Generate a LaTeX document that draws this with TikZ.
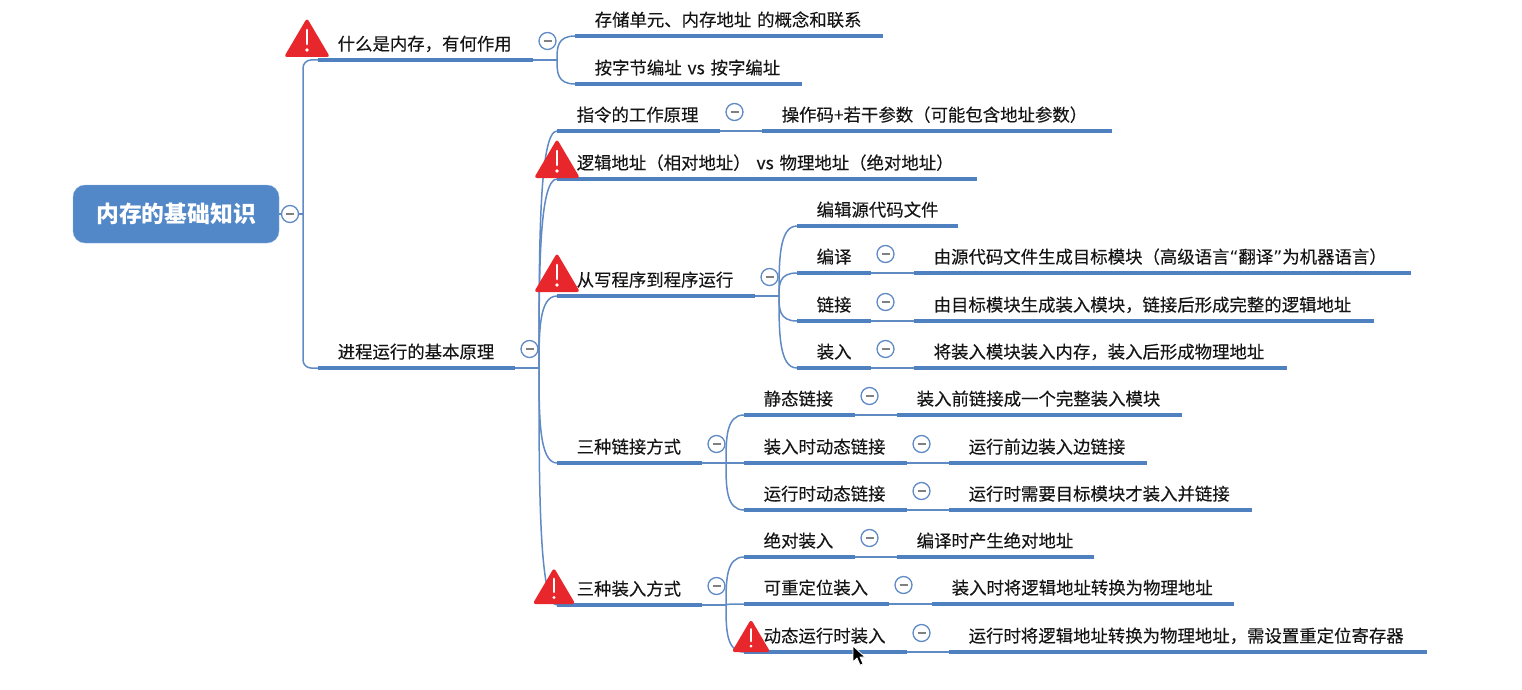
\documentclass[tikz,border=0pt]{standalone}
\usepackage{fontspec}
\setmainfont{Noto Sans CJK SC}
\newfontfamily\topicfont[FakeBold=0.2, WordSpace=1.5]{Noto Sans CJK SC}
\newfontfamily\quotefont{DejaVu Sans}
\usetikzlibrary{backgrounds,calc}
\definecolor{barblue}{HTML}{4F81C0}
\definecolor{linkblue}{HTML}{5F8AC4}
\definecolor{rootblue}{HTML}{5388C8}
\definecolor{warnred}{HTML}{E8272C}
\definecolor{inkdark}{HTML}{151515}
\tikzset{
    topic/.style={inner sep=0pt, anchor=base west, font=\topicfont\fontsize{17.4}{19}\selectfont, text=inkdark},
    bar/.style={barblue, line width=4.4pt},
    link/.style={linkblue, line width=1.5pt},
    rootbox/.style={rectangle, rounded corners=12pt, fill=rootblue, draw=rootblue!70!white, text=white, minimum width=206pt, minimum height=58pt, font=\fontsize{22.8}{25}\selectfont\bfseries},
    fold/.style={circle, draw=linkblue, fill=white, line width=1.3pt, inner sep=0pt, minimum size=17pt,
        path picture={\draw[gray, line width=1.2pt] ([xshift=-4pt]path picture bounding box.center) -- ([xshift=4pt]path picture bounding box.center);}},
    warn/.pic={
        \fill[warnred, rounded corners=3pt] (-23,0) -- (0,-39) -- (23,0) -- cycle;
        \draw[white, line width=2.6pt, line cap=round] (0,-27) -- (0,-13);
        \fill[white] (0,-7) circle (1.8);
    }
}
\begin{document}
\begin{tikzpicture}[x=1pt, y=-1pt]
    \useasboundingbox (0,0) rectangle (1522,690);
    \node[rootbox] (root) at (176,214) {内存的基础知识};
    \node[fold] (root-fold) at (290,214) {};
    \coordinate (root-j) at (303,214);
    % warning marks go under the texts
    \foreach \xpos/\ypos/\size in {307/57/1, 557/178/1, 557/292/1, 554/604/0.93, 751/652/0.84}{
        \pic[scale=\size] at (\xpos,\ypos) {warn};
    }
    % name / bar start / bar end / bar height / text
    \foreach \name/\xa/\xb/\ybar/\txt in {
        mem/318/533/60/{什么是内存，有何作用},
        cell/575/883/36/{存储单元、内存地址 的概念和联系},
        addr/575/802/84/{按字节编址 vs 按字编址},
        proc/318/515/368/{进程运行的基本原理},
        instr/557/720/131/{指令的工作原理},
        opcode/762/1112/131/{操作码+若干参数（可能包含地址参数）},
        logic/557/977/179/{逻辑地址（相对地址） vs 物理地址（绝对地址）},
        steps/557/755/296/{从写程序到程序运行},
        edit/797/958/226/{编辑源代码文件},
        comp/797/871/273/{编译},
        compd/914/1411/273/{由源代码文件生成目标模块（高级语言{\quotefont“}翻译{\quotefont”}为机器语言）},
        linkit/797/871/321/{链接},
        linkd/914/1374/321/{由目标模块生成装入模块，链接后形成完整的逻辑地址},
        load/797/871/368/{装入},
        loadd/914/1287/368/{将装入模块装入内存，装入后形成物理地址},
        lways/557/702/463/{三种链接方式},
        lstat/744/855/415/{静态链接},
        lstatd/897/1182/415/{装入前链接成一个完整装入模块},
        lload/744/907/463/{装入时动态链接},
        lloadd/949/1147/463/{运行前边装入边链接},
        lrun/744/907/510/{运行时动态链接},
        lrund/949/1252/510/{运行时需要目标模块才装入并链接},
        iways/557/702/605/{三种装入方式},
        iabs/744/855/557/{绝对装入},
        iabsd/897/1094/557/{编译时产生绝对地址},
        irel/744/889/604/{可重定位装入},
        ireld/932/1234/604/{装入时将逻辑地址转换为物理地址},
        idyn/744/907/652/{动态运行时装入},
        idynd/949/1427/652/{运行时将逻辑地址转换为物理地址，需设置重定位寄存器}}{
        \coordinate (\name-l) at (\xa,\ybar);
        \coordinate (\name-r) at (\xb,\ybar);
        \begin{pgfonlayer}{background}
            \draw[bar] (\name-l) -- (\name-r);
        \end{pgfonlayer}
        \node[topic] (\name) at (\xa+19.5,\ybar-9.7) {\txt};
    }
    % fold buttons sit just above the right end of a bar
    \foreach \name in {mem,proc,instr,steps,comp,linkit,load,lways,lstat,lload,lrun,iways,iabs,irel,idyn}{
        \node[fold] (\name-fold) at ([shift={(14.5,-19)}]\name-r) {};
    }
    \begin{pgfonlayer}{background}
        \draw[link] (root) -- (root-fold) -- (root-j);
        \draw[link, rounded corners=8pt] (mem-l) -| (root-j) |- (proc-l);
        % one child, straight on
        \foreach \from/\to in {instr/opcode, comp/compd, linkit/linkd, load/loadd, lstat/lstatd, lload/lloadd, lrun/lrund, iabs/iabsd, irel/ireld, idyn/idynd}{
            \draw[link] (\from-r) -- (\to-l);
        }
        % several children, curved out of a junction
        \foreach \from/\gap/\kids in {mem/24/{cell,addr}, proc/24/{instr,logic,steps,lways,iways}, steps/24/{edit,comp,linkit,load}, lways/24/{lstat,lload,lrun}, iways/24/{iabs,irel,idyn}}{
            \coordinate (\from-j) at ([xshift=\gap pt]\from-r);
            \draw[link] (\from-r) -- (\from-j);
            \foreach \kid in \kids {
                \draw[link] (\from-j) .. controls ($(\from-j)!0.5!(\from-j |- \kid-l)$) and (\from-j |- \kid-l) .. (\kid-l);
            }
        }
    \end{pgfonlayer}
    % mouse pointer
    \draw[white, fill=black, line width=0.8pt, line join=round] (853,646) -- (853,662) -- (857,658) -- (860,665) -- (863,664) -- (860,657) -- (865,657) -- cycle;
\end{tikzpicture}
\end{document}
